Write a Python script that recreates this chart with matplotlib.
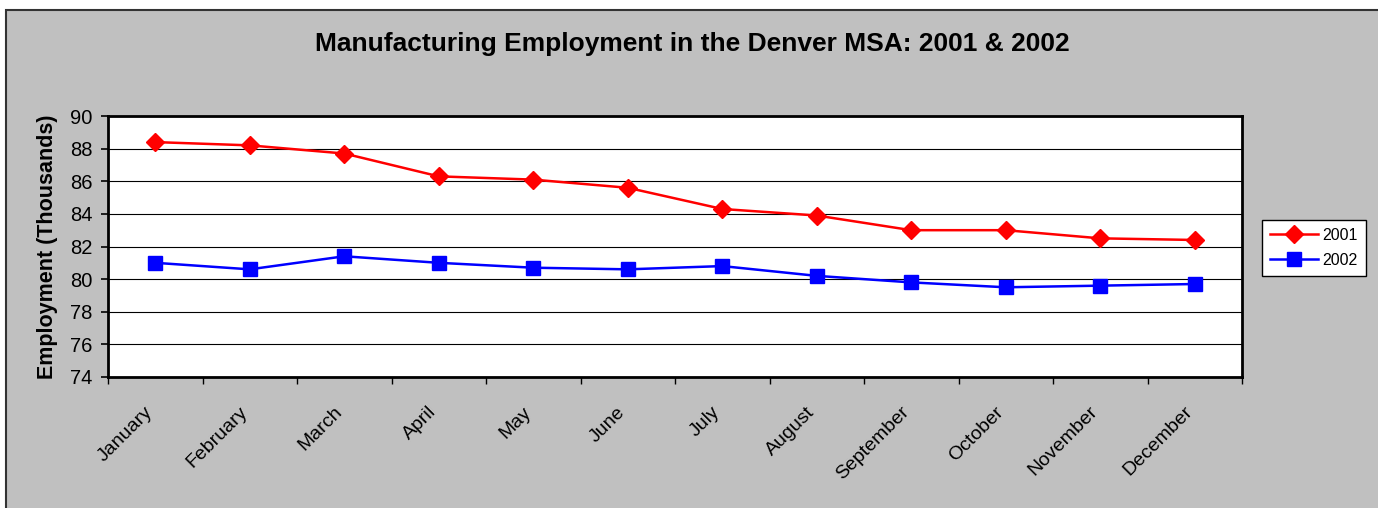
import numpy as np
import matplotlib.pyplot as plt
from matplotlib.patches import Rectangle
from matplotlib.transforms import ScaledTranslation

months = ["January", "February", "March", "April", "May", "June", "July",
          "August", "September", "October", "November", "December"]
emp_2001 = [88.4, 88.2, 87.7, 86.3, 86.1, 85.6, 84.3, 83.9, 83.0, 83.0, 82.5, 82.4]
emp_2002 = [81.0, 80.6, 81.4, 81.0, 80.7, 80.6, 80.8, 80.2, 79.8, 79.5, 79.6, 79.7]

plt.rcParams['font.family'] = ['Liberation Sans', 'DejaVu Sans']

W, H = 1378, 508
fig = plt.figure(figsize=(W / 100, H / 100), dpi=100, facecolor='white')

# grey chart area with dark border
fig.patches.append(Rectangle((6 / W, -0.1), 2, (H - 10) / H + 0.1, transform=fig.transFigure,
                             facecolor='#C0C0C0', edgecolor='#333333', linewidth=1.5, zorder=-1))

ax = fig.add_axes([108 / W, 1 - 377 / H, (1242 - 108) / W, (377 - 116) / H])
ax.set_facecolor('white')

x = np.arange(len(months)) + 0.5
ax.plot(x, emp_2001, color='#FF0000', marker='D', markersize=9, linewidth=1.8, label='2001')
ax.plot(x, emp_2002, color='#0000FF', marker='s', markersize=10.5, linewidth=1.8, label='2002')

ax.set_xlim(0, 12)
ax.set_ylim(74, 90)
ax.set_yticks(range(74, 91, 2))
ax.yaxis.grid(True, color='black', linewidth=0.8)
ax.set_axisbelow(True)
ax.tick_params(axis='y', labelsize=14.5, length=5, direction='out', width=1.2, pad=6)

ax.set_xticks(range(13))
ax.set_xticklabels([])
ax.tick_params(axis='x', which='major', length=5, direction='out', width=1)
ax.set_xticks(x, minor=True)
ax.set_xticklabels(months, minor=True, rotation=45, ha='right', va='top',
                   rotation_mode='anchor', fontsize=14)
ax.tick_params(axis='x', which='minor', length=0, pad=19)
shift = ScaledTranslation(-11 / 100, 0, fig.dpi_scale_trans)
for lbl in ax.get_xticklabels(minor=True):
    lbl.set_transform(lbl.get_transform() + shift)

for s in ax.spines.values():
    s.set_linewidth(2)
    s.set_color('black')

ax.set_ylabel("Employment (Thousands)", fontsize=15.5, fontweight='bold', labelpad=9)
fig.text(692 / W, 1 - 44 / H, "Manufacturing Employment in the Denver MSA: 2001 & 2002",
         ha='center', va='center', fontsize=19, fontweight='bold')

leg = ax.legend(loc='upper left', bbox_to_anchor=(1262 / W, 1 - 220 / H),
                bbox_transform=fig.transFigure, fontsize=11.5, frameon=True, fancybox=False,
                edgecolor='black', facecolor='white', framealpha=1, borderpad=0.5,
                handlelength=3.0, labelspacing=0.6, handletextpad=0.3, borderaxespad=0)
leg.get_frame().set_linewidth(1)

fig.savefig('out.png', dpi=100)
